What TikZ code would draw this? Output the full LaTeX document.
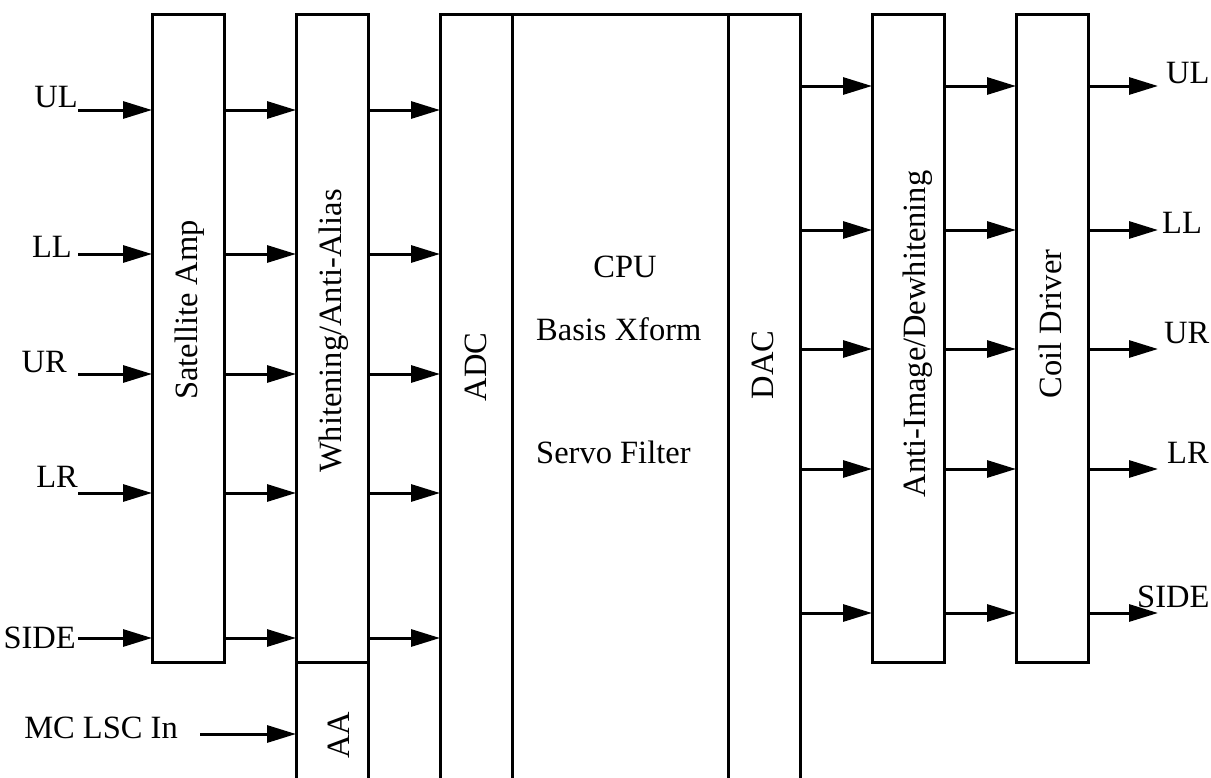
\documentclass[tikz,border=0pt]{standalone}
\usepackage{fontspec}
\setmainfont{Liberation Serif}
\usetikzlibrary{arrows.meta}

\begin{document}
\begin{tikzpicture}[
    x=1pt, y=-1pt,
    every node/.style={font=\fontsize{32.5}{38}\selectfont, inner sep=0pt},
    block/.style={draw, rectangle, line width=3pt, minimum width=72pt, outer sep=0pt},
    tall/.style={block, minimum height=648pt},
    open/.style={block, minimum height=786pt},
    arrow/.style={line width=3pt, -{Triangle[length=29pt,width=17pt]}}
]
\useasboundingbox (0,0) rectangle (1211,777);
\clip (0,0) rectangle (1211,777);

% blocks
\node (sat)  [tall] at (188,338) {};
\node (wht)  [tall] at (332,338) {};
\node (aa)   [block, minimum height=138pt] at (332,731) {};
\node (adc)  [open] at (476,407) {};
\node (cpu)  [open, minimum width=216pt] at (620,407) {};
\node (dac)  [open] at (764,407) {};
\node (aid)  [tall] at (908,338) {};
\node (coil) [tall] at (1052,338) {};

% block labels
\node [rotate=90] at (190,310) {Satellite Amp};
\node [rotate=90] at (334,331) {Whitening/Anti-Alias};
\node [rotate=90] at (339,735) {AA};
\node [rotate=90] at (476,367) {ADC};
\node [rotate=90] at (763,365) {DAC};
\node [rotate=90] at (918,334) {Anti-Image/Dewhitening};
\node [rotate=90] at (1050,324) {Coil Driver};
\node [anchor=base] at (625,277) {CPU};
\node [anchor=base west] at (536,340) {Basis Xform};
\node [anchor=base west] at (536,463) {Servo Filter};

% inputs
\coordinate (inUL)   at (78,110);
\coordinate (inLL)   at (78,254);
\coordinate (inUR)   at (78,374);
\coordinate (inLR)   at (78,493);
\coordinate (inSIDE) at (78,638);
\coordinate (inMC)   at (200,734);
\node [anchor=base east] at (78,107) {UL};
\node [anchor=base east] at (72,257) {LL};
\node [anchor=base east] at (67,372) {UR};
\node [anchor=base east] at (78,487) {LR};
\node [anchor=base east] at (76,648) {SIDE};
\node [anchor=base east] at (178,738) {MC LSC In};

\draw [arrow] (inUL)   -- (inUL -| sat.west);
\draw [arrow] (inLL)   -- (inLL -| sat.west);
\draw [arrow] (inUR)   -- (inUR -| sat.west);
\draw [arrow] (inLR)   -- (inLR -| sat.west);
\draw [arrow] (inSIDE) -- (inSIDE -| sat.west);
\draw [arrow] (inMC)   -- (inMC -| aa.west);

\draw [arrow] (sat.east |- inUL)   -- (wht.west |- inUL);
\draw [arrow] (sat.east |- inLL)   -- (wht.west |- inLL);
\draw [arrow] (sat.east |- inUR)   -- (wht.west |- inUR);
\draw [arrow] (sat.east |- inLR)   -- (wht.west |- inLR);
\draw [arrow] (sat.east |- inSIDE) -- (wht.west |- inSIDE);

\draw [arrow] (wht.east |- inUL)   -- (adc.west |- inUL);
\draw [arrow] (wht.east |- inLL)   -- (adc.west |- inLL);
\draw [arrow] (wht.east |- inUR)   -- (adc.west |- inUR);
\draw [arrow] (wht.east |- inLR)   -- (adc.west |- inLR);
\draw [arrow] (wht.east |- inSIDE) -- (adc.west |- inSIDE);

% outputs
\coordinate (outUL)   at (1158,86);
\coordinate (outLL)   at (1158,230);
\coordinate (outUR)   at (1158,349);
\coordinate (outLR)   at (1158,469);
\coordinate (outSIDE) at (1158,613);
\node [anchor=base west] at (1166,83)  {UL};
\node [anchor=base west] at (1162,233) {LL};
\node [anchor=base west] at (1164,343) {UR};
\node [anchor=base west] at (1167,463) {LR};
\node [anchor=base west] at (1137,607) {SIDE};

\draw [arrow] (dac.east |- outUL)   -- (aid.west |- outUL);
\draw [arrow] (dac.east |- outLL)   -- (aid.west |- outLL);
\draw [arrow] (dac.east |- outUR)   -- (aid.west |- outUR);
\draw [arrow] (dac.east |- outLR)   -- (aid.west |- outLR);
\draw [arrow] (dac.east |- outSIDE) -- (aid.west |- outSIDE);

\draw [arrow] (aid.east |- outUL)   -- (coil.west |- outUL);
\draw [arrow] (aid.east |- outLL)   -- (coil.west |- outLL);
\draw [arrow] (aid.east |- outUR)   -- (coil.west |- outUR);
\draw [arrow] (aid.east |- outLR)   -- (coil.west |- outLR);
\draw [arrow] (aid.east |- outSIDE) -- (coil.west |- outSIDE);

\draw [arrow] (coil.east |- outUL)   -- (outUL);
\draw [arrow] (coil.east |- outLL)   -- (outLL);
\draw [arrow] (coil.east |- outUR)   -- (outUR);
\draw [arrow] (coil.east |- outLR)   -- (outLR);
\draw [arrow] (coil.east |- outSIDE) -- (outSIDE);
\end{tikzpicture}
\end{document}
